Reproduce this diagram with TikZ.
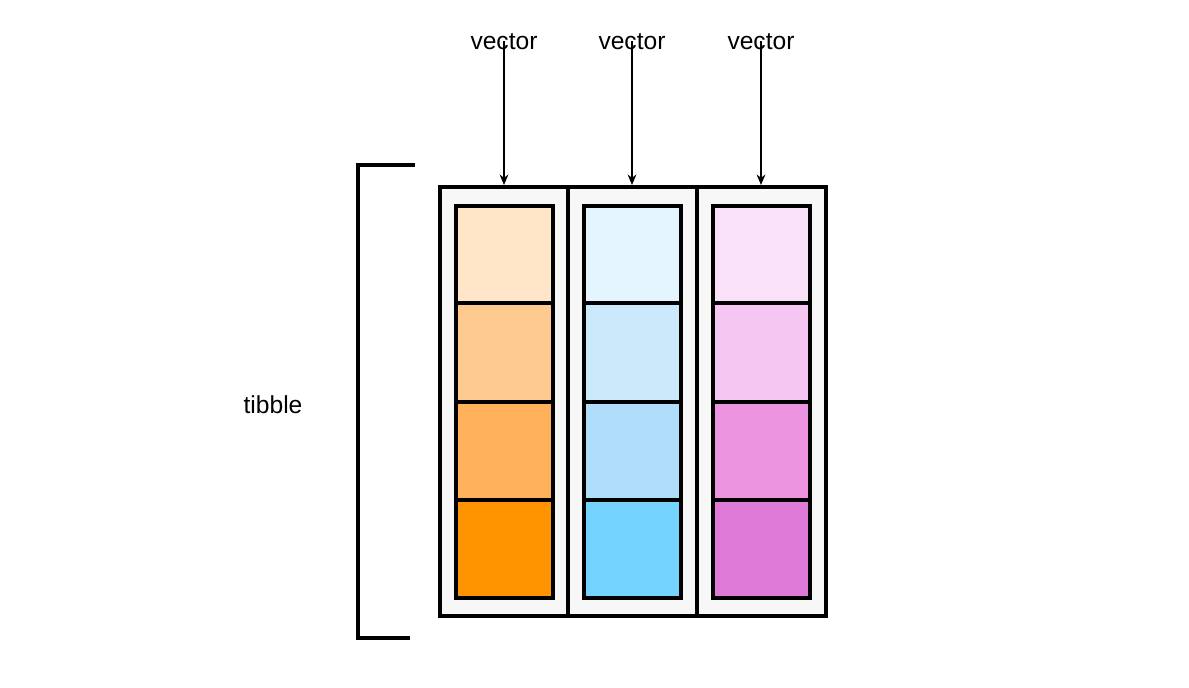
\documentclass[tikz,border=0pt]{standalone}
\usepackage{fontspec}
\setmainfont{Liberation Sans}
\usetikzlibrary{arrows.meta,calc}
\definecolor{or1}{HTML}{FFE6C8}\definecolor{or2}{HTML}{FFCA90}
\definecolor{or3}{HTML}{FFB05A}\definecolor{or4}{HTML}{FF9400}
\definecolor{bl1}{HTML}{E4F4FC}\definecolor{bl2}{HTML}{CCE8FB}
\definecolor{bl3}{HTML}{B0DEFA}\definecolor{bl4}{HTML}{74D4FF}
\definecolor{pk1}{HTML}{F9E2F7}\definecolor{pk2}{HTML}{F4C6F1}
\definecolor{pk3}{HTML}{EC94E0}\definecolor{pk4}{HTML}{E07AD8}
\tikzset{
  colbox/.style={draw=black,line width=2.8pt,fill=black!3},
  cellbox/.style={draw=black,line width=2.8pt},
  lbl/.style={font=\fontsize{14}{16}\selectfont},
  vecarrow/.style={-{Stealth[length=6pt,width=5pt]},line width=0.7pt}
}
\begin{document}
\begin{tikzpicture}[x=0.02cm,y=-0.02cm]
\useasboundingbox (0,0) rectangle (1189,687);

% bracket
\draw[line width=2.8pt] (415,165) -- (358,165) -- (358,638) -- (410,638);
\node[lbl] (tib) at (273,405) {tibble};

% columns
\foreach \x/\c [count=\i] in {440/or,568/bl,697/pk} {
  \draw[colbox] (\x,187) rectangle (\x+129,616);
  \foreach \ya/\yb [count=\j] in {206/303,303/402,402/500,500/598}
    \draw[cellbox,fill=\c\j] (\x+16,\ya) rectangle (\x+113,\yb);
  \coordinate (top\i) at (\x+64,185);
}

% labels and arrows
\foreach \i in {1,2,3} {
  \node[lbl] (vec\i) at ($(top\i)+(0,-143)$) {vector};
  \draw[vecarrow] (vec\i.south) ++(0,-15) -- (top\i);
}
\end{tikzpicture}
\end{document}
